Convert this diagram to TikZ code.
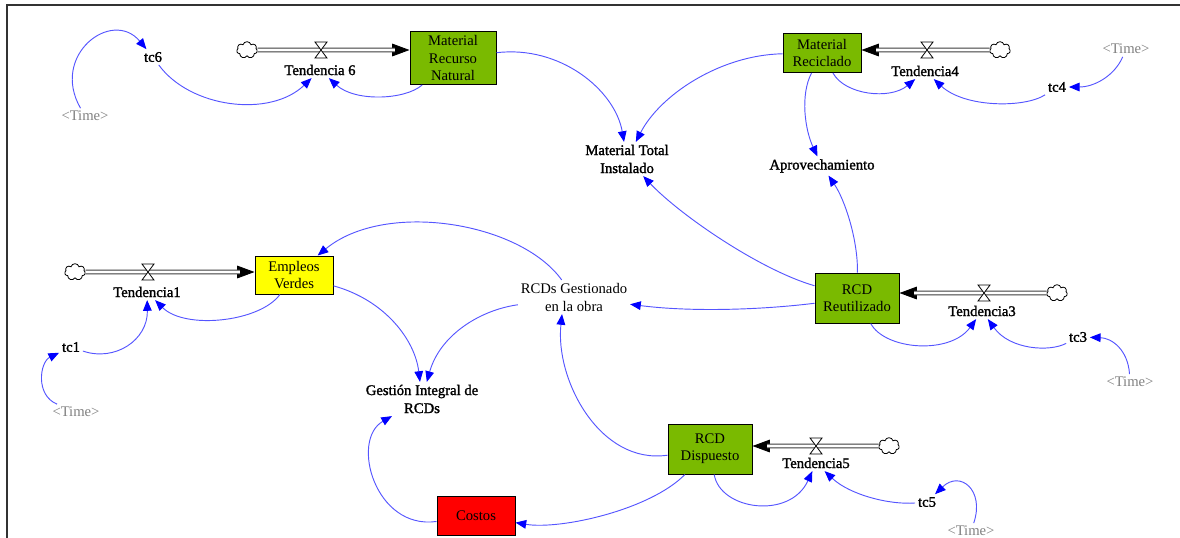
\documentclass[tikz,border=0pt]{standalone}
\usepackage{fontspec}
\setmainfont{Liberation Serif}
\newfontfamily\auxfont{Liberation Serif}[FakeBold=1.6]
\usetikzlibrary{arrows.meta,shapes.symbols}
\definecolor{stockgreen}{RGB}{122,186,0}
\definecolor{stockyellow}{RGB}{255,255,0}
\definecolor{stockred}{RGB}{255,0,0}
\definecolor{linkblue}{RGB}{85,85,255}
\definecolor{tipblue}{RGB}{0,0,255}
\definecolor{timegray}{RGB}{128,128,128}
\definecolor{pipegray}{RGB}{60,60,60}
\definecolor{framegray}{RGB}{50,50,50}
\tikzset{
  stock/.style={draw=black, line width=0.75pt, align=center, inner sep=0pt,
    font=\fontsize{11pt}{13pt}\selectfont},
  auxvar/.style={align=center, inner sep=2pt,
    font=\auxfont\fontsize{11pt}{13.5pt}\selectfont},
  plainvar/.style={align=center, inner sep=2pt,
    font=\fontsize{11pt}{13.5pt}\selectfont},
  timevar/.style={text=timegray, inner sep=2pt,
    font=\fontsize{11pt}{13.5pt}\selectfont},
  link/.style={draw=linkblue, line width=0.7pt,
    -{Triangle[length=8pt,width=6.5pt,color=tipblue]}},
  pipe/.style={draw=pipegray, line width=0.7pt, double=white, double distance=2.2pt},
  pipetip/.style={draw=black, line width=0.6pt, -{Triangle[length=13pt,width=9.5pt]}},
  source/.style={cloud, cloud puffs=7, aspect=1.2, draw=black, line width=0.6pt,
    fill=white, minimum width=15.5pt, minimum height=12.5pt, inner sep=0pt},
  flowvalve/.pic={\draw[fill=white, draw=black, line width=0.6pt]
    (-6,-8) -- (6,-8) -- (-6,8) -- (6,8) -- cycle;}
}
\begin{document}
\begin{tikzpicture}[x=0.75pt,y=-0.75pt]
\useasboundingbox (0,0) rectangle (1180,537);
\draw[line width=1.5pt, framegray] (6.5,540) -- (6.5,5) -- (1182,5);

% stocks
\node[stock, fill=stockgreen, minimum width=64.5pt, minimum height=39.75pt] (MRN) at (453,58) {Material\\Recurso\\Natural};
\node[stock, fill=stockgreen, minimum width=58.5pt, minimum height=29.25pt] (MR) at (822,53) {Material\\Reciclado};
\node[stock, fill=stockgreen, minimum width=63pt, minimum height=37.5pt] (RCDR) at (857,298) {RCD\\Reutilizado};
\node[stock, fill=stockyellow, minimum width=58.5pt, minimum height=28.5pt] (EV) at (294,275) {Empleos\\Verdes};
\node[stock, fill=stockgreen, minimum width=63pt, minimum height=37.5pt] (RCDD) at (710,449) {RCD\\Dispuesto};
\node[stock, fill=stockred, minimum width=58.5pt, minimum height=29.25pt] (Costos) at (476,516) {Costos};

% clouds
\node[source] (c6) at (247,50) {};
\node[source] (c4) at (1000,50) {};
\node[source] (c3) at (1057,293) {};
\node[source] (c1) at (75,272) {};
\node[source] (c5) at (889,446) {};

% valves
\coordinate (v6) at (321,50);
\coordinate (v4) at (927,50);
\coordinate (v3) at (984,293);
\coordinate (v1) at (148,272);
\coordinate (v5) at (816,446);

% auxiliaries
\node[auxvar] (T6) at (320,70) {Tendencia 6};
\node[auxvar] (T4) at (925,71) {Tendencia4};
\node[auxvar] (T3) at (982,311) {Tendencia3};
\node[auxvar] (T1) at (147,292) {Tendencia1};
\node[auxvar] (T5) at (816,463) {Tendencia5};
\node[auxvar] (tc6) at (153,57) {tc6};
\node[auxvar] (tc4) at (1057,87) {tc4};
\node[auxvar] (tc3) at (1078,337) {tc3};
\node[auxvar] (tc1) at (71,347) {tc1};
\node[auxvar] (tc5) at (927,502) {tc5};
\node[timevar] (tA) at (85,116) {<Time>};
\node[timevar] (tB) at (1126,49) {<Time>};
\node[timevar] (tC) at (1130,382) {<Time>};
\node[timevar] (tD) at (76,412) {<Time>};
\node[timevar] (tE) at (971,531) {<Time>};
\node[auxvar] (MTI) at (627,159) {Material Total\\Instalado};
\node[auxvar] (Aprov) at (822,166) {Aprovechamiento};
\node[plainvar] (RCDsG) at (574,297) {RCDs Gestionado\\en la obra};
\node[auxvar] (GI) at (422,399) {Gestión Integral de\\RCDs};

% pipes
\draw[pipetip] (v6) -- (v6 -| MRN.west);
\draw[pipe, shorten >=11pt] (c6) -- (c6 -| MRN.west);
\draw[pipetip] (v4) -- (v4 -| MR.east);
\draw[pipe, shorten >=11pt] (c4) -- (c4 -| MR.east);
\draw[pipetip] (v3) -- (v3 -| RCDR.east);
\draw[pipe, shorten >=11pt] (c3) -- (c3 -| RCDR.east);
\draw[pipetip] (v1) -- (v1 -| EV.west);
\draw[pipe, shorten >=11pt] (c1) -- (c1 -| EV.west);
\draw[pipetip] (v5) -- (v5 -| RCDD.east);
\draw[pipe, shorten >=11pt] (c5) -- (c5 -| RCDD.east);
\pic at (v6) {flowvalve};
\pic at (v4) {flowvalve};
\pic at (v3) {flowvalve};
\pic at (v1) {flowvalve};
\pic at (v5) {flowvalve};

% links
\draw[link] (tA) .. controls (50,55) and (112,8) .. (tc6);
\draw[link] (tc6) .. controls (190,108) and (270,118) .. (T6);
\draw[link] (MRN) .. controls (405,100) and (355,102) .. (T6);
\draw[link] (MRN) .. controls (560,45) and (615,90) .. (MTI);
\draw[link] (MR) .. controls (720,55) and (660,95) .. (MTI);
\draw[link] (MR) .. controls (800,95) and (805,130) .. (Aprov);
\draw[link] (MR) .. controls (845,95) and (890,100) .. (T4);
\draw[link] (tc4) .. controls (1025,108) and (965,108) .. (T4);
\draw[link] (tB) .. controls (1115,75) and (1095,87) .. (tc4);
\draw[link] (RCDR) .. controls (885,350) and (950,355) .. (T3);
\draw[link] (tc3) .. controls (1050,352) and (1010,350) .. (T3);
\draw[link] (tC) .. controls (1128,350) and (1112,338) .. (tc3);
\draw[link] (RCDR) .. controls (858,240) and (845,200) .. (Aprov);
\draw[link] (RCDR) .. controls (760,270) and (680,215) .. (MTI);
\draw[link] (RCDR) .. controls (760,310) and (690,312) .. (RCDsG);
\draw[link] (RCDsG) .. controls (520,222) and (385,200) .. (EV);
\draw[link] (RCDsG) .. controls (480,310) and (440,335) .. (GI);
\draw[link] (EV) .. controls (385,300) and (415,340) .. (GI);
\draw[link] (EV) .. controls (260,322) and (185,330) .. (T1);
\draw[link] (tc1) .. controls (115,362) and (148,340) .. (T1);
\draw[link] (tD) .. controls (35,395) and (40,362) .. (tc1);
\draw[link] (RCDD) .. controls (720,510) and (790,520) .. (T5);
\draw[link] (tc5) .. controls (890,505) and (850,495) .. (T5);
\draw[link] (tE) .. controls (985,490) and (960,470) .. (tc5);
\draw[link] (RCDD) .. controls (650,510) and (560,530) .. (Costos);
\draw[link] (Costos) .. controls (375,530) and (350,440) .. (GI);
\draw[link] (RCDD) .. controls (600,465) and (555,380) .. (RCDsG.235);
\end{tikzpicture}
\end{document}
